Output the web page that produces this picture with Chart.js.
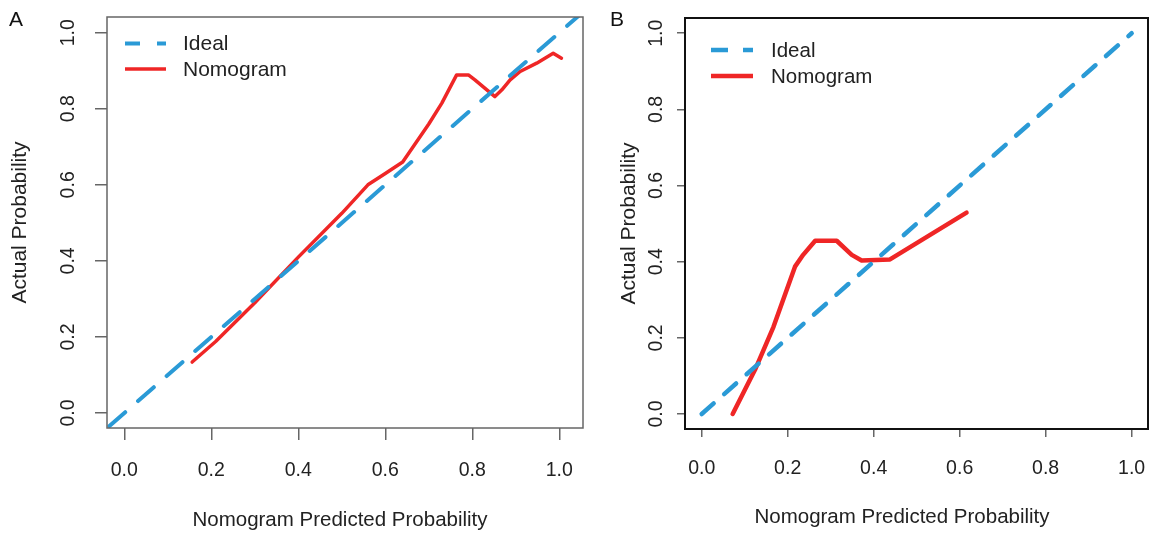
<!DOCTYPE html>
<html><head><meta charset="utf-8">
<script src="https://cdn.jsdelivr.net/npm/chart.js@4.4.1/dist/chart.umd.min.js"></script>
<style>
html,body{margin:0;padding:0;background:#fff;width:1156px;height:534px;overflow:hidden}
#wa{position:absolute;left:0;top:0;width:600px;height:534px}
#wb{position:absolute;left:600px;top:0;width:556px;height:534px}
</style></head><body>
<div id="wa"><canvas id="ca"></canvas></div>
<div id="wb"><canvas id="cb"></canvas></div>
<script>
// ---- data ----
const tickValues = [0, 0.2, 0.4, 0.6, 0.8, 1.0];
const tickLabels = ['0.0', '0.2', '0.4', '0.6', '0.8', '1.0'];
const seriesNames = ['Ideal', 'Nomogram'];
const panelLabels = ['A', 'B'];
const xTitle = 'Nomogram Predicted Probability';
const yTitle = 'Actual Probability';

const idealA_x = [-0.1, 1.1];
const idealA_y = [-0.1, 1.1];
const nomoA_x = [0.156, 0.21, 0.30, 0.40, 0.50, 0.56, 0.60, 0.64, 0.70, 0.73, 0.764, 0.791, 0.806, 0.852, 0.868, 0.887, 0.91, 0.948, 0.986, 1.005];
const nomoA_y = [0.134, 0.188, 0.29, 0.41, 0.525, 0.60, 0.63, 0.66, 0.76, 0.815, 0.889, 0.889, 0.876, 0.832, 0.85, 0.876, 0.898, 0.92, 0.946, 0.933];

const idealB_x = [0, 1];
const idealB_y = [0, 1];
const nomoB_x = [0.072, 0.124, 0.167, 0.217, 0.236, 0.264, 0.314, 0.349, 0.372, 0.438, 0.616];
const nomoB_y = [0.0, 0.116, 0.229, 0.387, 0.418, 0.455, 0.455, 0.418, 0.403, 0.406, 0.529];

// ---- style ----
const FAMILY = '"Liberation Sans", Arial, sans-serif';
const TEXT = '#222222';
const BLUE = '#2a9ad6';
const RED = '#ef2626';

function pts(xs, ys) { return xs.map((x, i) => ({x: x, y: ys[i]})); }

const decorPlugin = {
  id: 'decor',
  afterDraw(chart) {
    const c = chart.options.plugins.decor;
    const ctx = chart.ctx;
    const a = chart.chartArea;
    ctx.save();
    // box
    ctx.strokeStyle = c.boxColor;
    ctx.lineWidth = c.boxWidth;
    ctx.strokeRect(a.left, a.top, a.right - a.left, a.bottom - a.top);
    // y tick labels (rotated, R style)
    const ys = chart.scales.y;
    ctx.fillStyle = TEXT;
    ctx.font = '19.5px ' + FAMILY;
    ctx.textAlign = 'center';
    ctx.textBaseline = 'middle';
    tickValues.forEach((v, i) => {
      const py = ys.getPixelForValue(v);
      ctx.save();
      ctx.translate(c.yLabelX, py);
      ctx.rotate(-Math.PI / 2);
      ctx.fillText(tickLabels[i], 0, 0);
      ctx.restore();
    });
    // x axis title
    ctx.font = '20.5px ' + FAMILY;
    ctx.fillText(xTitle, c.xTitleX, c.xTitleY);
    // legend
    chart.data.datasets.forEach((ds, i) => {
      const y = c.legY + i * c.legStep;
      ctx.save();
      ctx.strokeStyle = ds.borderColor;
      ctx.lineWidth = ds.borderWidth;
      ctx.lineCap = 'butt';
      ctx.setLineDash(i === 0 ? c.legDash : []);
      ctx.beginPath();
      ctx.moveTo(c.legX0, y);
      ctx.lineTo(c.legX1, y);
      ctx.stroke();
      ctx.restore();
      ctx.fillStyle = TEXT;
      ctx.textAlign = 'left';
      ctx.textBaseline = 'middle';
      ctx.font = c.legFont + 'px ' + FAMILY;
      ctx.fillText(ds.label, c.legTextX, y + 1);
    });
    // panel letter
    ctx.font = '21px ' + FAMILY;
    ctx.textAlign = 'left';
    ctx.textBaseline = 'middle';
    ctx.fillStyle = '#111';
    ctx.fillText(c.letter, c.letterX, c.letterY);
    ctx.restore();
  }
};

function makeChart(id, cfg) {
  return new Chart(document.getElementById(id), {
    type: 'scatter',
    data: {
      datasets: [
        {label: seriesNames[0], data: cfg.ideal, showLine: true, borderColor: BLUE, backgroundColor: BLUE,
         borderWidth: cfg.bw, borderDash: cfg.dash, borderCapStyle: 'round', pointRadius: 0, fill: false},
        {label: seriesNames[1], data: cfg.nomo, showLine: true, borderColor: RED, backgroundColor: RED,
         borderWidth: cfg.rw, borderCapStyle: 'round', borderJoinStyle: 'round', pointRadius: 0, fill: false}
      ]
    },
    options: {
      responsive: true, maintainAspectRatio: false, animation: false,
      layout: {padding: {left: 0, right: cfg.padR, top: cfg.padT, bottom: 0}},
      plugins: {
        legend: {display: false}, tooltip: {enabled: false},
        decor: cfg.decor
      },
      scales: {
        x: {
          type: 'linear', min: cfg.xmin, max: cfg.xmax,
          afterBuildTicks: s => { s.ticks = tickValues.map(v => ({value: v})); },
          afterFit: s => { s.height = cfg.xh; s.paddingLeft = 0; s.paddingRight = 0; },
          grid: {drawOnChartArea: false, drawTicks: true, tickLength: cfg.tl, color: '#666', lineWidth: 1.5},
          border: {display: false},
          ticks: {callback: (v, i) => tickLabels[i], font: {family: FAMILY, size: 19.5}, color: TEXT,
                  padding: cfg.xpad, maxRotation: 0, minRotation: 0, autoSkip: false},
          title: {display: false}
        },
        y: {
          type: 'linear', min: cfg.ymin, max: cfg.ymax,
          afterBuildTicks: s => { s.ticks = tickValues.map(v => ({value: v})); },
          afterFit: s => { s.width = cfg.yw; s.paddingTop = 0; s.paddingBottom = 0; },
          grid: {drawOnChartArea: false, drawTicks: true, tickLength: cfg.tl, color: '#666', lineWidth: 1.5},
          border: {display: false},
          ticks: {display: false},
          title: {display: true, text: yTitle, font: {family: FAMILY, size: 21}, color: TEXT,
                  padding: {top: cfg.ytp, bottom: 0}}
        }
      }
    },
    plugins: [decorPlugin]
  });
}

makeChart('ca', {
  ideal: pts(idealA_x, idealA_y), nomo: pts(nomoA_x, nomoA_y),
  bw: 4, rw: 3.5, dash: [21, 17],
  padR: 17, padT: 17, xh: 106, yw: 107, tl: 12,
  xmin: -0.0398, xmax: 1.0545, ymin: -0.0394, ymax: 1.0413,
  xpad: 19, ytp: 7.4,
  decor: {boxColor: '#666', boxWidth: 1.5, yLabelX: 69, xTitleX: 340, xTitleY: 520,
          legX0: 125, legX1: 166, legY: 43.5, legStep: 25.5, legTextX: 183, legDash: [15, 17], legFont: 21,
          letter: panelLabels[0], letterX: 9, letterY: 20}
});

makeChart('cb', {
  ideal: pts(idealB_x, idealB_y), nomo: pts(nomoB_x, nomoB_y),
  bw: 4.5, rw: 4.5, dash: [16, 14],
  padR: 8, padT: 18, xh: 105, yw: 85, tl: 8,
  xmin: -0.0388, xmax: 1.038, ymin: -0.0394, ymax: 1.040,
  xpad: 20, ytp: 16.9,
  decor: {boxColor: '#111', boxWidth: 2, yLabelX: 57, xTitleX: 302, xTitleY: 517,
          legX0: 111, legX1: 153, legY: 50, legStep: 26, legTextX: 171, legDash: [17, 15], legFont: 20.5,
          letter: panelLabels[1], letterX: 10, letterY: 20}
});
</script>
</body></html>
